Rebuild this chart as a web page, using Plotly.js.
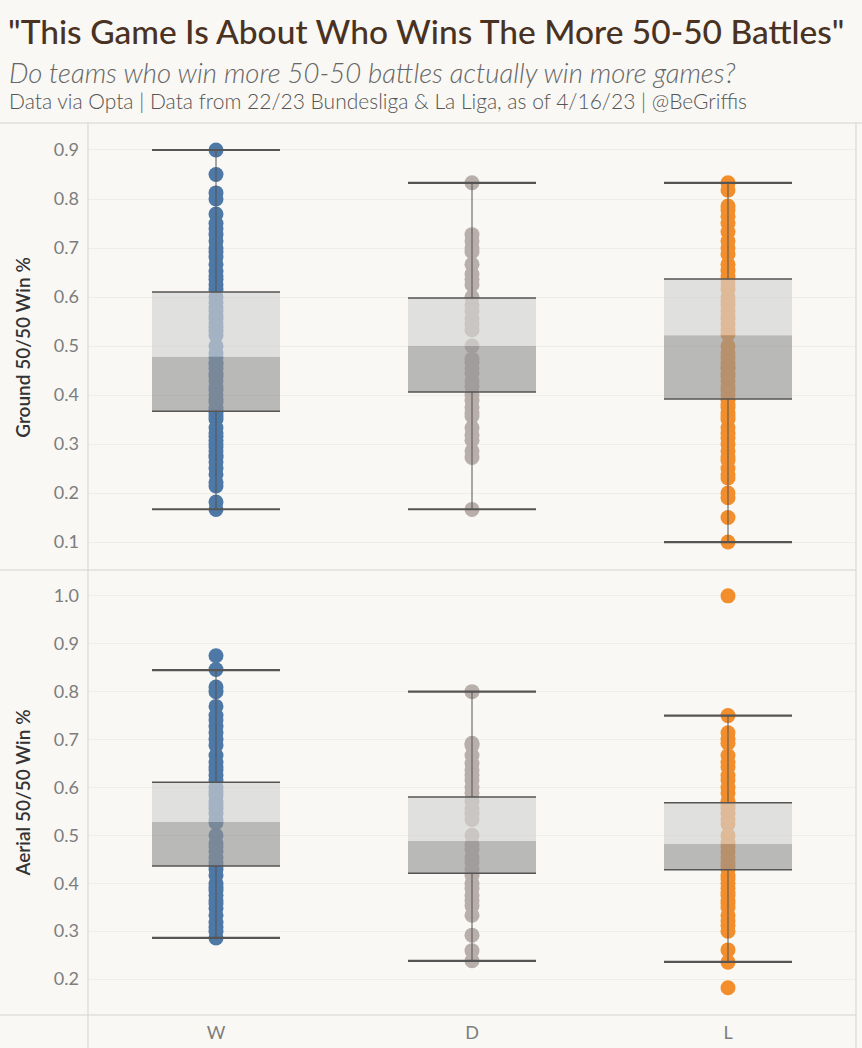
<!DOCTYPE html>
<html>
<head>
<meta charset="utf-8">
<script src="https://cdn.plot.ly/plotly-3.0.1.min.js"></script>
<style>html,body{margin:0;padding:0;background:#f9f8f4;}</style>
</head>
<body>
<div id="chart" style="width:862px;height:1048px;"></div>
<script>
// ---- Data ----
const categories = ['W', 'D', 'L'];

// Ground 50/50 win % per team-game, by result
const groundW = [0.9, 0.85, 0.8125, 0.8, 0.7692, 0.75, 0.7391, 0.7273, 0.7143, 0.7, 0.6923, 0.6818, 0.6667, 0.6522, 0.6429, 0.6364, 0.625, 0.6154, 0.6, 0.5882, 0.5789, 0.5714, 0.5625, 0.5556, 0.5455, 0.5385, 0.5294, 0.5217, 0.5, 0.4848, 0.4762, 0.4667, 0.4615, 0.4545, 0.4444, 0.4375, 0.4286, 0.4167, 0.4091, 0.4, 0.3913, 0.3846, 0.375, 0.3684, 0.3636, 0.3571, 0.35, 0.3333, 0.3226, 0.3158, 0.3077, 0.3, 0.2941, 0.2857, 0.2778, 0.2727, 0.2632, 0.25, 0.2381, 0.2222, 0.2143, 0.1818, 0.1667];
const groundD = [0.8333, 0.7273, 0.7143, 0.7, 0.6923, 0.6667, 0.6471, 0.6364, 0.625, 0.6, 0.5833, 0.5714, 0.5556, 0.5455, 0.5333, 0.5, 0.4737, 0.4667, 0.4545, 0.4444, 0.4286, 0.4167, 0.4, 0.3889, 0.375, 0.3636, 0.3571, 0.3333, 0.3182, 0.3077, 0.2857, 0.2727, 0.1667];
const groundL = [0.8333, 0.8182, 0.7857, 0.7778, 0.7647, 0.75, 0.7333, 0.7143, 0.7, 0.6875, 0.6667, 0.6538, 0.6429, 0.6364, 0.625, 0.6154, 0.6, 0.5909, 0.5833, 0.5714, 0.5625, 0.5556, 0.5455, 0.5333, 0.5238, 0.5, 0.4857, 0.4762, 0.4667, 0.4583, 0.4545, 0.4444, 0.4375, 0.4286, 0.4167, 0.4091, 0.4, 0.3889, 0.381, 0.375, 0.3636, 0.3571, 0.35, 0.3333, 0.3214, 0.3125, 0.3, 0.2857, 0.2727, 0.2667, 0.25, 0.2381, 0.2308, 0.2, 0.1905, 0.15, 0.1];

// Aerial 50/50 win % per team-game, by result
const aerialW = [0.875, 0.8462, 0.8095, 0.8, 0.7692, 0.75, 0.7407, 0.7273, 0.7143, 0.7, 0.6875, 0.6667, 0.6522, 0.6429, 0.6364, 0.625, 0.6154, 0.6, 0.5909, 0.5833, 0.5714, 0.5625, 0.5556, 0.5455, 0.5333, 0.5263, 0.5, 0.4839, 0.4762, 0.4667, 0.4545, 0.4444, 0.4375, 0.4286, 0.4167, 0.4, 0.3913, 0.3846, 0.375, 0.3636, 0.3571, 0.3478, 0.3333, 0.3182, 0.3077, 0.3, 0.2857];
const aerialD = [0.8, 0.6923, 0.6875, 0.6667, 0.65, 0.6364, 0.625, 0.6154, 0.6, 0.5882, 0.5714, 0.5556, 0.5455, 0.5333, 0.5, 0.4815, 0.4706, 0.4545, 0.4444, 0.4286, 0.4167, 0.4, 0.3889, 0.375, 0.3636, 0.3529, 0.3333, 0.2917, 0.2593, 0.2381];
const aerialL = [1.0, 0.75, 0.7143, 0.7, 0.6923, 0.6667, 0.6522, 0.6429, 0.625, 0.6154, 0.6, 0.5882, 0.5714, 0.5625, 0.5556, 0.5455, 0.5333, 0.5238, 0.5, 0.4857, 0.4762, 0.4667, 0.4545, 0.4444, 0.4375, 0.4286, 0.4167, 0.4091, 0.4, 0.3889, 0.381, 0.375, 0.3636, 0.3571, 0.35, 0.3333, 0.3214, 0.3125, 0.3, 0.2609, 0.2353, 0.1818];

// Box-plot summaries (W, D, L)
const groundLower  = [0.167, 0.167, 0.100];
const groundQ1     = [0.367, 0.406, 0.392];
const groundMedian = [0.478, 0.500, 0.522];
const groundQ3     = [0.610, 0.598, 0.637];
const groundUpper  = [0.900, 0.833, 0.833];

const aerialLower  = [0.286, 0.238, 0.236];
const aerialQ1     = [0.436, 0.421, 0.428];
const aerialMedian = [0.528, 0.488, 0.482];
const aerialQ3     = [0.611, 0.580, 0.568];
const aerialUpper  = [0.845, 0.800, 0.750];

// ---- Styling ----
const dotColors = ['#4e79a7', '#b8aeaa', '#f28e2b'];
const BOX_HALF = 0.25;
const lineCol = '#555555';

function dotTraces(groups, yaxis) {
  return groups.map((vals, i) => ({
    type: 'scatter', mode: 'markers', xaxis: 'x', yaxis: yaxis,
    x: vals.map(() => i), y: vals,
    marker: {size: 15, color: dotColors[i], line: {width: 0}},
    hoverinfo: 'y', showlegend: false
  }));
}

function boxTraces(lo, q1, med, q3, hi, yaxis) {
  const lightX = [], lightY = [], darkX = [], darkY = [];
  const capX = [], capY = [], edgeX = [], edgeY = [], whX = [], whY = [];
  categories.forEach((c, i) => {
    const a = i - BOX_HALF, b = i + BOX_HALF;
    darkX.push(a, b, b, a, a, null);  darkY.push(q1[i], q1[i], med[i], med[i], q1[i], null);
    lightX.push(a, b, b, a, a, null); lightY.push(med[i], med[i], q3[i], q3[i], med[i], null);
    capX.push(a, b, null, a, b, null); capY.push(hi[i], hi[i], null, lo[i], lo[i], null);
    edgeX.push(a, b, null, a, b, null); edgeY.push(q3[i], q3[i], null, q1[i], q1[i], null);
    whX.push(i, i, null, i, i, null); whY.push(q3[i], hi[i], null, q1[i], lo[i], null);
  });
  const base = {type: 'scatter', xaxis: 'x', yaxis: yaxis, hoverinfo: 'skip', showlegend: false};
  return [
    Object.assign({}, base, {x: whX, y: whY, mode: 'lines', line: {color: lineCol, width: 1}}),
    Object.assign({}, base, {x: darkX, y: darkY, mode: 'lines', fill: 'toself', fillcolor: 'rgba(147,147,147,0.63)', line: {width: 0}}),
    Object.assign({}, base, {x: lightX, y: lightY, mode: 'lines', fill: 'toself', fillcolor: 'rgba(211,211,211,0.65)', line: {width: 0}}),
    Object.assign({}, base, {x: edgeX, y: edgeY, mode: 'lines', line: {color: lineCol, width: 1.5}}),
    Object.assign({}, base, {x: capX, y: capY, mode: 'lines', line: {color: lineCol, width: 2.2}})
  ];
}

const data = [].concat(
  dotTraces([groundW, groundD, groundL], 'y'),
  boxTraces(groundLower, groundQ1, groundMedian, groundQ3, groundUpper, 'y'),
  dotTraces([aerialW, aerialD, aerialL], 'y2'),
  boxTraces(aerialLower, aerialQ1, aerialMedian, aerialQ3, aerialUpper, 'y2')
);

const FONT = 'Lato, "Open Sans", sans-serif';
const borderCol = '#d3d3d3';
const gridCol = '#efede8';

const yBase = {
  tickformat: '.1f', showgrid: true, gridcolor: gridCol, gridwidth: 1,
  zeroline: false, showline: false, ticks: '', ticklabelstandoff: 8,
  tickfont: {family: FONT, size: 18, color: '#7d7d7d'}
};

const layout = {
  width: 862, height: 1048,
  paper_bgcolor: '#f9f8f4', plot_bgcolor: '#f9f8f4',
  margin: {l: 88, r: 6, t: 125, b: 33},
  font: {family: FONT},
  showlegend: false,
  title: {
    text: '"This Game Is About Who Wins The More 50-50 Battles"',
    font: {family: FONT, size: 33.5, color: '#4a3222', weight: 500},
    xref: 'container', x: 8/862, xanchor: 'left',
    yref: 'container', y: 1 - 32/1048, yanchor: 'middle'
  },
  xaxis: {
    domain: [0, 1], range: [-0.5, 2.5], anchor: 'y2',
    tickvals: [0, 1, 2], ticktext: categories,
    showgrid: false, zeroline: false, showline: false, ticks: '',
    ticklabelstandoff: 5,
    tickfont: {family: FONT, size: 18, color: '#7d7d7d'}
  },
  yaxis: Object.assign({}, yBase, {
    domain: [0.5, 1], range: [0.043, 0.951], tickvals: [0.1,0.2,0.3,0.4,0.5,0.6,0.7,0.8,0.9],
    anchor: 'x',
    title: {text: 'Ground 50/50 Win %', font: {family: FONT, size: 19, color: '#333333', weight: 600}, standoff: 18}
  }),
  yaxis2: Object.assign({}, yBase, {
    domain: [0, 0.5], range: [0.125, 1.054], tickvals: [0.2,0.3,0.4,0.5,0.6,0.7,0.8,0.9,1.0],
    anchor: 'x',
    title: {text: 'Aerial 50/50 Win %', font: {family: FONT, size: 19, color: '#333333', weight: 600}, standoff: 18}
  }),
  annotations: [
    {text: 'Do teams who win more 50-50 battles actually win more games?',
     xref: 'paper', yref: 'paper', x: -81/768, y: (1015-72)/890, xanchor: 'left', yanchor: 'middle',
     showarrow: false, font: {family: FONT, size: 27.5, color: '#666666', style: 'italic', weight: 300}},
    {text: 'Data via Opta | Data from 22/23 Bundesliga &amp; La Liga, as of 4/16/23 | @BeGriffis',
     xref: 'paper', yref: 'paper', x: -81/768, y: (1015-101)/890, xanchor: 'left', yanchor: 'middle',
     showarrow: false, font: {family: FONT, size: 21, color: '#555555', weight: 300}}
  ],
  shapes: [
    {type: 'line', xref: 'paper', yref: 'paper', x0: -88/768, x1: 1 + 6/768, y0: 1 + 2/890, y1: 1 + 2/890, line: {color: borderCol, width: 1}},
    {type: 'line', xref: 'paper', yref: 'paper', x0: 0, x1: 0, y0: 1 + 2/890, y1: -33/890, line: {color: borderCol, width: 1}},
    {type: 'line', xref: 'paper', yref: 'paper', x0: 1, x1: 1, y0: 1 + 2/890, y1: -33/890, line: {color: borderCol, width: 1}},
    {type: 'line', xref: 'paper', yref: 'paper', x0: -88/768, x1: 1, y0: 0.5, y1: 0.5, line: {color: borderCol, width: 1}},
    {type: 'line', xref: 'paper', yref: 'paper', x0: -88/768, x1: 1, y0: 0, y1: 0, line: {color: borderCol, width: 1}}
  ]
};

Plotly.newPlot('chart', data, layout, {displayModeBar: false, staticPlot: true});
</script>
</body>
</html>
